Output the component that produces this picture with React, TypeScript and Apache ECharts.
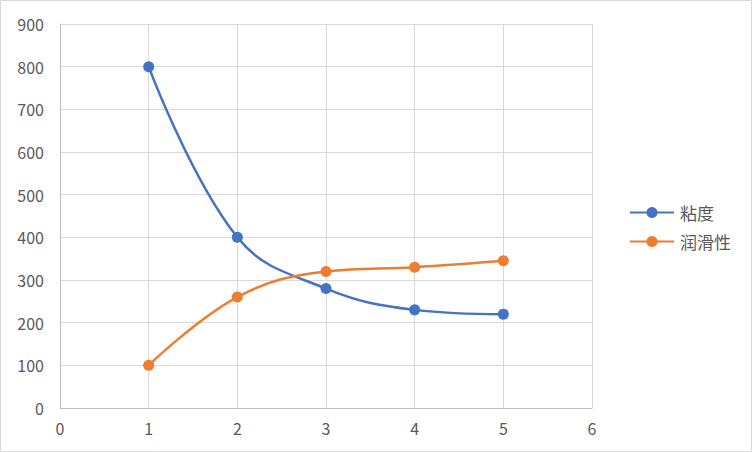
import React, { useEffect, useRef } from "react";
import * as echarts from "echarts";

const seriesNames = ["粘度", "润滑性"];
const xValues = [1, 2, 3, 4, 5];
const viscosity = [800, 400, 280, 230, 220];
const lubricity = [100, 260, 320, 330, 345];

export default function App() {
  const ref = useRef<HTMLDivElement>(null);
  useEffect(() => {
    document.body.style.margin = "0";
    const chart = echarts.init(ref.current!, undefined, { renderer: "svg" });
    const font = "'Noto Sans CJK SC', 'Noto Sans', sans-serif";
    const mk = (vals: number[]) => xValues.map((x, i) => [x, vals[i]]);
    chart.setOption({
      animation: false,
      backgroundColor: "#ffffff",
      textStyle: { fontFamily: font },
      graphic: [
        {
          type: "rect",
          shape: { x: 0.5, y: 0.5, width: 751, height: 451 },
          style: { fill: "none", stroke: "#d9d9d9", lineWidth: 1 },
          silent: true,
        },
      ],
      grid: { left: 60, right: 160, top: 24, bottom: 44, containLabel: false },
      legend: {
        orient: "vertical",
        left: 624,
        top: 199,
        itemWidth: 44,
        itemHeight: 14,
        itemGap: 12,
        data: seriesNames,
        textStyle: { fontSize: 17, color: "#595959", fontFamily: font, padding: [0, 0, 0, 1] },
      },
      xAxis: {
        type: "value",
        min: 0,
        max: 6,
        interval: 1,
        axisLine: { show: true, lineStyle: { color: "#bfbfbf", width: 1 } },
        axisTick: { show: false },
        axisLabel: { color: "#595959", fontSize: 16, margin: 12, fontFamily: font },
        splitLine: { show: true, lineStyle: { color: "#d9d9d9", width: 1 } },
      },
      yAxis: {
        type: "value",
        min: 0,
        max: 900,
        interval: 100,
        axisLine: { show: true, lineStyle: { color: "#bfbfbf", width: 1 } },
        axisTick: { show: false },
        axisLabel: { color: "#595959", fontSize: 16, margin: 16, fontFamily: font },
        splitLine: { show: true, lineStyle: { color: "#d9d9d9", width: 1 } },
      },
      series: [
        {
          name: seriesNames[0],
          type: "line",
          data: mk(viscosity),
          smooth: 0.4,
          symbol: "circle",
          symbolSize: 11,
          lineStyle: { color: "#4472c4", width: 2.5 },
          itemStyle: { color: "#4472c4" },
        },
        {
          name: seriesNames[1],
          type: "line",
          data: mk(lubricity),
          smooth: 0.4,
          symbol: "circle",
          symbolSize: 11,
          lineStyle: { color: "#ed7d31", width: 2.5 },
          itemStyle: { color: "#ed7d31" },
        },
      ],
    });
    return () => chart.dispose();
  }, []);
  return <div ref={ref} style={{ width: 752, height: 452 }} />;
}
